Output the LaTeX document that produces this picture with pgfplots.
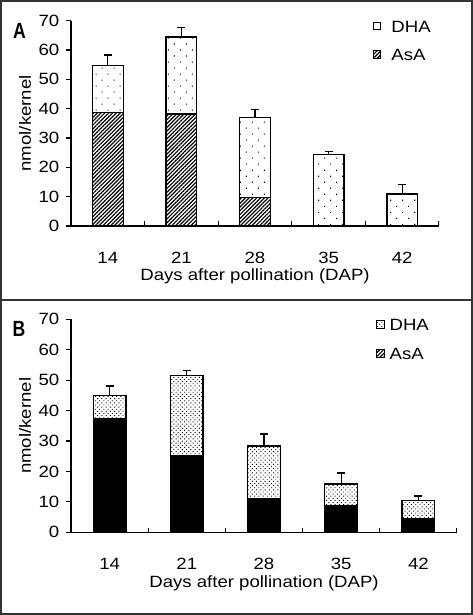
\documentclass[border=0pt]{standalone}
\usepackage{fontspec}
\setmainfont{Liberation Sans}[FakeStretch=1.14]
\newfontfamily\panelfont{Liberation Sans}[FakeStretch=0.8]
\usepackage{pgfplots}
\usepackage{pgfplotstable}
\pgfplotsset{compat=1.18}
\usetikzlibrary{patterns.meta}

% panel A: x  AsA  DHA  error(+)
\pgfplotstableread{
x asa dha err
0 38.6 16.1 3.6
1 38.2 26.2 3.2
2 9.8 27.2 2.8
3 0 24.3 1.0
4 0 10.9 3.2
}\dataA
% panel B
\pgfplotstableread{
x asa dha err
0 37.5 7.5 3.1
1 25.1 26.5 1.5
2 11.0 17.4 3.9
3 8.9 7.0 3.6
4 4.6 5.8 1.5
}\dataB

\definecolor{framec}{HTML}{333333}
\newcommand\chartfont{\fontsize{16.3}{19}\selectfont}

\pgfplotsset{
  panel/.style={
    scale only axis,
    xmin=-0.5, xmax=4.5, ymin=0, ymax=70,
    ytick={0,10,...,70},
    xtick={0,...,4},
    xticklabels={14,21,28,35,42},
    xtick style={draw=none},
    axis x line*=bottom, axis y line*=left,
    axis line style={line width=1.3pt, -},
    ytick style={line width=1.2pt, black},
    tick align=outside, major tick length=4.5pt,
    /pgf/number format/assume math mode=true,
    font=\chartfont,
    xticklabel style={anchor=center, yshift=-27pt},
    yticklabel style={anchor=east, inner sep=0pt, xshift=-7pt},
    xlabel={Days after pollination (DAP)},
    ylabel={nmol/kernel},
    xlabel style={at={(axis description cs:0.5,0)}, anchor=center, yshift=-50.7pt},
    ylabel style={at={(axis description cs:0,0.5)}, anchor=center, yshift=46pt},
    ybar stacked,
    reverse legend,
    legend cell align=left,
    legend image code/.code={\draw[##1, line width=1pt] (0pt,-2.5pt) rectangle (7.5pt,5pt);},
    legend style={draw=none, fill=none, anchor=north west, inner sep=0pt,
      row sep=16pt,
      nodes={inner sep=0pt}},
    error bars/y dir=plus, error bars/y explicit,
    error bars/error bar style={line width=1.3pt, black},
    error bars/error mark options={rotate=90, mark size=4pt, line width=1.3pt, black},
  },
}

\begin{document}
\begin{tikzpicture}[x=1pt,y=1pt]
\useasboundingbox (0,0) rectangle (473,615);
\draw[line width=2pt, framec] (1,1) rectangle (472,614);
\draw[line width=2pt, framec] (1,315) -- (472,315);

\node[font=\panelfont\bfseries\fontsize{22}{22}\selectfont] at (19.5,584.5) {A};
\node[font=\panelfont\bfseries\fontsize{22}{22}\selectfont] at (19,286.5) {B};

% ---------- Panel A ----------
\begin{axis}[panel, at={(71pt,389pt)}, anchor=south west,
  width=368pt, height=205.3pt, bar width=30.7pt,
  legend style={at={(axis description cs:0.82,1.0)},
    /tikz/every odd column/.append style={column sep=10pt}}]
\addplot[draw=black, line width=1.3pt,
  pattern={Lines[angle=45,distance=2.7pt,line width=1.2pt]}, pattern color=black,
  error bars/draw error bar/.code={}]
  table[x=x, y=asa] {\dataA};
\addplot[draw=black, line width=1.3pt, fill=white,
  postaction={pattern={Dots[angle=45,distance=8.5pt,radius=0.75pt]}, pattern color=black}]
  table[x=x, y=dha, y error plus=err] {\dataA};
\legend{{\fontsize{16.3}{19}\selectfont AsA},{\fontsize{16.3}{19}\selectfont DHA}}
\pgfplotsinvokeforeach{0.5,1.5,2.5,3.5,4.5}{
  \draw[line width=1.2pt] (axis cs:#1,0) -- ([yshift=4.5pt]axis cs:#1,0);}
\end{axis}

% ---------- Panel B ----------
\begin{axis}[panel, at={(71pt,82.7pt)}, anchor=south west,
  width=386pt, height=213pt, bar width=32.7pt,
  legend style={at={(axis description cs:0.79,1.0)},
    /tikz/every odd column/.append style={column sep=5pt}}]
\addplot[draw=black, line width=1.3pt, fill=black,
  legend image code/.code={\draw[line width=1pt, pattern={Lines[angle=45,distance=2.7pt,line width=1.2pt]}] (0pt,-2.5pt) rectangle (7.5pt,5pt);}]
  table[x=x, y=asa] {\dataB};
\addplot[draw=black, line width=1.3pt, fill=white,
  postaction={pattern={Dots[angle=45,distance=3pt,radius=0.65pt]}, pattern color=black}]
  table[x=x, y=dha, y error plus=err] {\dataB};
\legend{{\fontsize{16.3}{19}\selectfont AsA},{\fontsize{16.3}{19}\selectfont DHA}}
\pgfplotsinvokeforeach{0.5,1.5,2.5,3.5,4.5}{
  \draw[line width=1.2pt] (axis cs:#1,0) -- ([yshift=4.5pt]axis cs:#1,0);}
\end{axis}
\end{tikzpicture}
\end{document}
